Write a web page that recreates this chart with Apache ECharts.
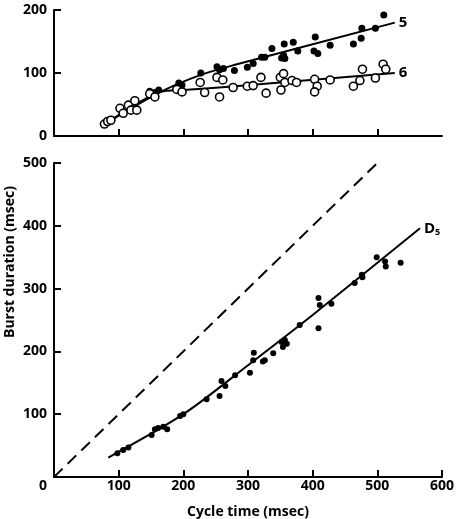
<!DOCTYPE html>
<html>
<head>
<meta charset="utf-8">
<script src="https://cdn.jsdelivr.net/npm/echarts@6/dist/echarts.min.js"></script>
<style>
  html, body { margin: 0; padding: 0; background: #fff; }
  #chart { width: 457px; height: 519px; }
</style>
</head>
<body>
<div id="chart"></div>
<script>
// top panel - burst 5 (filled dots)
var burst5 = [[148,71],[156,69],[162,73],[193,84],[198,81],[227,100],[252,110],[256,105],[262,107],
  [279,104],[299,109],[308,115],[321,125],[326,125],[337,139],[352,124],[355,128],[357,123],
  [356,146],[370,149],[377,135],[402,135],[404,157],[408,131],[427,144],[463,146],[475,155],
  [476,171],[497,171],[510,192]];
// top panel - burst 6 (open circles)
var burst6 = [[78,19],[83,23],[88,25],[102,44],[107,36],[115,49],[119,41],[125,56],[128,41],
  [148,67],[156,62],[190,74],[198,70],[226,85],[233,69],[252,93],[261,89],[256,62],[277,77],
  [299,79],[308,80],[320,93],[328,68],[350,93],[355,99],[351,73],[357,85],[368,88],[375,85],
  [403,90],[407,79],[403,70],[427,89],[463,79],[473,88],[477,106],[497,92],[509,114],[513,106]];
var fit5 = [[82,21],[165,70],[227,97],[280,113],[527,180]];
var fit6 = [[82,21],[165,70],[200,73],[280,79],[527,100]];

// bottom panel - Ds
var burstDs = [[98,38],[107,43],[115,47],[151,67],[156,76],[161,78],[169,80],[175,76],[195,97],
  [200,100],[236,124],[256,129],[259,153],[265,145],[280,162],[303,166],[308,186],[309,198],
  [323,184],[326,186],[339,197],[352,215],[357,218],[360,212],[354,207],[380,242],[409,285],
  [411,274],[409,237],[429,276],[465,309],[477,318],[476,322],[499,350],[513,335],[512,343],[536,341]];
var fitDs = [[84,31],[200,100],[300,178],[400,258],[566,396]];
var identity = [[0,0],[510,510]];

var xTicks = [0,100,200,300,400,500,600];

var font = '"Open Sans", "Liberation Sans", sans-serif';
var black = '#000';

var axisLine = { lineStyle: { color: black, width: 2 } };
var axisTick = { inside: true, length: 7, lineStyle: { color: black, width: 2 } };
var labelStyle = { color: black, fontFamily: font, fontSize: 14, fontWeight: 'bold' };

var fitLine = function (data, xi, label) {
  return {
    type: 'line', xAxisIndex: xi, yAxisIndex: xi, data: data,
    showSymbol: false, smooth: 0.3, silent: true,
    lineStyle: { color: black, width: 2 },
    endLabel: { show: true, distance: 4, formatter: label, color: black,
      fontFamily: font, fontSize: 15, fontWeight: 'bold',
      rich: {
        d: { fontFamily: font, fontSize: 15, fontWeight: 'bold', color: black },
        s: { fontFamily: font, fontSize: 9, fontWeight: 'bold', color: black, padding: [8, 0, 0, 0] }
      }
    },
    z: 2
  };
};

var chart = echarts.init(document.getElementById('chart'));
chart.setOption({
  animation: false,
  backgroundColor: '#fff',
  grid: [
    { left: 54, right: 15, top: 10, height: 126, outerBoundsMode: 'none' },
    { left: 54, right: 15, top: 163, height: 314, outerBoundsMode: 'none' }
  ],
  xAxis: [
    { gridIndex: 0, type: 'value', min: 0, max: 600, interval: 100,
      axisLine: axisLine,
      axisTick: Object.assign({ customValues: xTicks.slice(1, 6) }, axisTick),
      axisLabel: { show: false }, splitLine: { show: false } },
    { gridIndex: 1, type: 'value', min: 0, max: 600, interval: 100,
      axisLine: axisLine, axisTick: axisTick, splitLine: { show: false },
      axisLabel: Object.assign({ margin: 2,
        formatter: function (v) { return v === 0 ? '{z|0}' : String(v); },
        rich: { z: { fontFamily: font, fontSize: 14, fontWeight: 'bold', color: black, padding: [0, 22, 0, 0] } }
      }, labelStyle),
      name: 'Cycle time (msec)', nameLocation: 'middle', nameGap: 28,
      nameTextStyle: labelStyle }
  ],
  yAxis: [
    { gridIndex: 0, type: 'value', min: 0, max: 200, interval: 100,
      axisLine: axisLine, axisTick: axisTick, splitLine: { show: false },
      axisLabel: Object.assign({ margin: 7 }, labelStyle) },
    { gridIndex: 1, type: 'value', min: 0, max: 500, interval: 100,
      axisLine: axisLine, axisTick: axisTick, splitLine: { show: false },
      axisLabel: Object.assign({ margin: 7,
        formatter: function (v) { return v === 0 ? '' : String(v); } }, labelStyle) }
  ],
  graphic: [{
    type: 'text', x: 10, y: 262, rotation: Math.PI / 2,
    style: { text: 'Burst duration (msec)', fill: black,
      font: 'bold 14px ' + font, textAlign: 'center', textVerticalAlign: 'middle',
      align: 'center', verticalAlign: 'middle' }
  }],
  series: [
    fitLine(fit5, 0, '5'),
    fitLine(fit6, 0, '6'),
    { type: 'scatter', xAxisIndex: 0, yAxisIndex: 0, data: burst5, symbolSize: 7,
      itemStyle: { color: black, opacity: 1 }, z: 3 },
    { type: 'scatter', xAxisIndex: 0, yAxisIndex: 0, data: burst6, symbolSize: 8,
      itemStyle: { color: '#fff', borderColor: black, borderWidth: 1.6, opacity: 1 }, z: 3 },
    { type: 'line', xAxisIndex: 1, yAxisIndex: 1, data: identity, showSymbol: false, silent: true,
      lineStyle: { color: black, width: 2, type: [12, 7] }, z: 2 },
    fitLine(fitDs, 1, '{d|D}{s|5}'),
    { type: 'scatter', xAxisIndex: 1, yAxisIndex: 1, data: burstDs, symbolSize: 6,
      itemStyle: { color: black, opacity: 1 }, z: 3 }
  ]
});
</script>
</body>
</html>
